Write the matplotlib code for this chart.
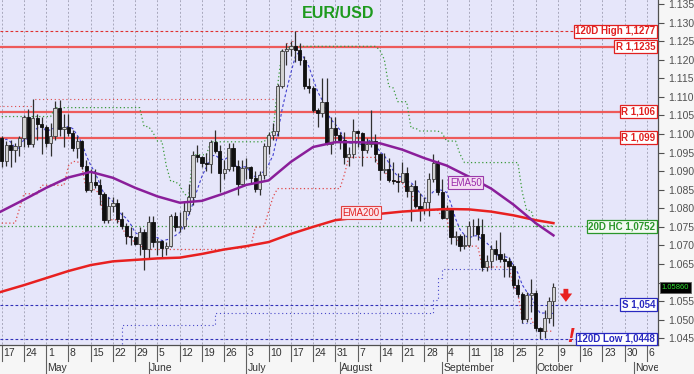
import numpy as np
import pandas as pd
import matplotlib
matplotlib.use("Agg")
import matplotlib.pyplot as plt
from matplotlib.patches import Rectangle
from matplotlib.transforms import blended_transform_factory

plt.rcParams["font.family"] = ["Liberation Sans", "DejaVu Sans"]

# -----------------------------
# Données (EUR/USD journalier)
# -----------------------------
# closes avant le 17 avril, seulement pour les canaux 20 jours
hist_close = [1.0720, 1.0769, 1.0856, 1.0830, 1.0760, 1.0799, 1.0844, 1.0843, 1.0905, 1.0839,
              1.0900, 1.0955, 1.0906, 1.0920, 1.0903, 1.0862, 1.0914, 1.0994, 1.1047, 1.0993]

opens = [1.0990, 1.0926, 1.0971, 1.0957, 1.0967, 1.0990, 1.1046, 1.0974, 1.1042, 1.1028,
         1.1018, 1.0975, 1.0995, 1.1071, 1.1014, 1.1020, 1.1004, 1.0962, 1.0981, 1.0914,
         1.0850, 1.0872, 1.0862, 1.0839, 1.0769, 1.0805, 1.0815, 1.0770, 1.0752, 1.0724,
         1.0722, 1.0705, 1.0735, 1.0689, 1.0763, 1.0708, 1.0712, 1.0693, 1.0699, 1.0779,
         1.0749, 1.0752, 1.0792, 1.0831, 1.0944, 1.0939, 1.0923, 1.0918, 1.0979, 1.0955,
         1.0894, 1.0905, 1.0961, 1.0913, 1.0866, 1.0909, 1.0911, 1.0882, 1.0853, 1.0890,
         1.0968, 1.0997, 1.1008, 1.1129, 1.1224, 1.1228, 1.1236, 1.1226, 1.1200, 1.1128,
         1.1124, 1.1064, 1.1056, 1.1087, 1.0973, 1.1016, 1.0998, 1.0983, 1.0937, 1.0947,
         1.1008, 1.1002, 1.0958, 1.0973, 1.0981, 1.0946, 1.0904, 1.0905, 1.0876, 1.0873,
         1.0872, 1.0895, 1.0846, 1.0861, 1.0807, 1.0795, 1.0818, 1.0880, 1.0923, 1.0843,
         1.0775, 1.0794, 1.0722, 1.0726, 1.0698, 1.0700, 1.0751, 1.0752, 1.0730, 1.0642,
         1.0659, 1.0689, 1.0678, 1.0664, 1.0659, 1.0644, 1.0593, 1.0570, 1.0503, 1.0566,
         1.0573, 1.0477, 1.0469, 1.0505, 1.0549]
highs = [1.0995, 1.0980, 1.0985, 1.0975, 1.0995, 1.1050, 1.1067, 1.1095, 1.1055, 1.1045,
         1.1025, 1.1030, 1.1090, 1.1092, 1.1055, 1.1055, 1.1010, 1.0995, 1.0985, 1.0930,
         1.0905, 1.0905, 1.0880, 1.0845, 1.0830, 1.0830, 1.0825, 1.0790, 1.0760, 1.0750,
         1.0725, 1.0750, 1.0745, 1.0780, 1.0780, 1.0720, 1.0715, 1.0710, 1.0785, 1.0790,
         1.0790, 1.0820, 1.0865, 1.0955, 1.0970, 1.0940, 1.0950, 1.0985, 1.1010, 1.0970,
         1.0930, 1.0975, 1.0975, 1.0930, 1.0930, 1.0935, 1.0915, 1.0900, 1.0900, 1.0975,
         1.1005, 1.1030, 1.1135, 1.1230, 1.1245, 1.1250, 1.1277, 1.1245, 1.1210, 1.1150,
         1.1130, 1.1070, 1.1150, 1.1150, 1.1045, 1.1045, 1.1005, 1.1005, 1.0965, 1.1040,
         1.1010, 1.1005, 1.0990, 1.1065, 1.1000, 1.0950, 1.0950, 1.0935, 1.0925, 1.0895,
         1.0925, 1.0910, 1.0865, 1.0875, 1.0840, 1.0830, 1.0895, 1.0945, 1.0930, 1.0880,
         1.0810, 1.0800, 1.0740, 1.0730, 1.0730, 1.0765, 1.0770, 1.0775, 1.0770, 1.0675,
         1.0700, 1.0715, 1.0737, 1.0680, 1.0670, 1.0650, 1.0610, 1.0575, 1.0575, 1.0610,
         1.0580, 1.0480, 1.0525, 1.0560, 1.0600]
lows = [1.0910, 1.0915, 1.0910, 1.0925, 1.0940, 1.0965, 1.0965, 1.0965, 1.0985, 1.0945,
        1.0965, 1.0940, 1.0985, 1.0995, 1.0965, 1.0995, 1.0955, 1.0935, 1.0905, 1.0845,
        1.0845, 1.0855, 1.0810, 1.0760, 1.0760, 1.0790, 1.0760, 1.0745, 1.0705, 1.0700,
        1.0700, 1.0675, 1.0635, 1.0665, 1.0695, 1.0675, 1.0665, 1.0675, 1.0695, 1.0740,
        1.0735, 1.0745, 1.0785, 1.0810, 1.0925, 1.0910, 1.0900, 1.0895, 1.0950, 1.0845,
        1.0880, 1.0900, 1.0900, 1.0835, 1.0860, 1.0880, 1.0865, 1.0845, 1.0835, 1.0880,
        1.0945, 1.0985, 1.0995, 1.1125, 1.1185, 1.1210, 1.1195, 1.1185, 1.1120, 1.1110,
        1.1060, 1.1020, 1.1045, 1.0970, 1.0945, 1.0975, 1.0960, 1.0920, 1.0915, 1.0935,
        1.0965, 1.0915, 1.0950, 1.0965, 1.0925, 1.0875, 1.0895, 1.0870, 1.0865, 1.0845,
        1.0870, 1.0830, 1.0765, 1.0800, 1.0765, 1.0785, 1.0780, 1.0870, 1.0835, 1.0770,
        1.0775, 1.0705, 1.0700, 1.0685, 1.0690, 1.0695, 1.0725, 1.0715, 1.0630, 1.0630,
        1.0640, 1.0660, 1.0655, 1.0615, 1.0615, 1.0585, 1.0560, 1.0490, 1.0495, 1.0520,
        1.0470, 1.0448, 1.0450, 1.0490, 1.0483]
closes = [1.0926, 1.0971, 1.0957, 1.0967, 1.0990, 1.1046, 1.0974, 1.1042, 1.1028, 1.1018,
          1.0975, 1.0995, 1.1071, 1.1014, 1.1020, 1.1004, 1.0962, 1.0981, 1.0914, 1.0850,
          1.0872, 1.0862, 1.0839, 1.0769, 1.0805, 1.0815, 1.0770, 1.0752, 1.0724, 1.0722,
          1.0705, 1.0735, 1.0689, 1.0763, 1.0708, 1.0712, 1.0693, 1.0699, 1.0779, 1.0749,
          1.0752, 1.0792, 1.0831, 1.0944, 1.0939, 1.0923, 1.0918, 1.0979, 1.0955, 1.0894,
          1.0905, 1.0961, 1.0913, 1.0866, 1.0909, 1.0911, 1.0882, 1.0853, 1.0890, 1.0968,
          1.0997, 1.1008, 1.1129, 1.1224, 1.1228, 1.1236, 1.1226, 1.1200, 1.1128, 1.1124,
          1.1064, 1.1056, 1.1087, 1.0973, 1.1016, 1.0998, 1.0983, 1.0937, 1.0947, 1.1008,
          1.1002, 1.0958, 1.0973, 1.0981, 1.0946, 1.0904, 1.0905, 1.0876, 1.0873, 1.0872,
          1.0895, 1.0846, 1.0861, 1.0807, 1.0795, 1.0818, 1.0880, 1.0923, 1.0843, 1.0775,
          1.0794, 1.0722, 1.0726, 1.0698, 1.0700, 1.0751, 1.0752, 1.0730, 1.0642, 1.0659,
          1.0689, 1.0678, 1.0664, 1.0659, 1.0644, 1.0593, 1.0570, 1.0503, 1.0566, 1.0573,
          1.0477, 1.0469, 1.0505, 1.0549, 1.0588]

# EMA (index jour ouvré depuis le 17 avril)
ema_pos = [-0.4, 5, 10, 15, 20, 25, 30, 35, 40, 45, 50, 55, 60, 65, 70, 75, 80, 85, 90,
           95, 100, 105, 110, 115, 120, 124]
ema50 = [1.0790, 1.0823, 1.0855, 1.0883, 1.0898, 1.0882, 1.0855, 1.0832, 1.0815, 1.0820,
         1.0840, 1.0863, 1.0875, 1.0925, 1.0965, 1.0978, 1.0978, 1.0975, 1.0958, 1.0935,
         1.0915, 1.0885, 1.0853, 1.0810, 1.0760, 1.0727]
ema200 = [1.0574, 1.0593, 1.0612, 1.0631, 1.0647, 1.0657, 1.0661, 1.0665, 1.0667, 1.0677,
          1.0689, 1.0698, 1.0709, 1.0731, 1.0750, 1.0768, 1.0775, 1.0785, 1.0791, 1.0795,
          1.0798, 1.0797, 1.0791, 1.0781, 1.0768, 1.0760]

# anciens plus haut / plus bas 120 jours (pointillés en escalier)
hi120_pos = [-1, 7, 62, 63, 64, 65, 66]
hi120_val = [1.1075, 1.1095, 1.1135, 1.1230, 1.1245, 1.1250, 1.1277]
lo120_pos = [-1, 27, 48, 97, 98, 99, 115, 116, 117, 120, 121, 124]
lo120_val = [1.0400, 1.0486, 1.0517, 1.0553, 1.0612, 1.0636, 1.0585, 1.0560, 1.0490,
             1.0470, 1.0448, 1.0448]

# niveaux horizontaux
res_levels = [1.1235, 1.106, 1.099]
high120 = 1.1277
hc20 = 1.0752
support = 1.054
low120 = 1.0448
last_price = 1.0586

week_days = [17, 24, 1, 8, 15, 22, 29, 5, 12, 19, 26, 3, 10, 17, 24, 31, 7, 14, 21, 28,
             4, 11, 18, 25, 2, 9, 16, 23, 30, 6]
months = ["May", "June", "July", "August", "September", "October", "November"]
month_pos = [10, 33, 55, 76, 99, 120, 142]

# -----------------------------
# Calculs
# -----------------------------
n = len(closes)
x = np.arange(n)
all_close = pd.Series(hist_close + closes)
hc = all_close.rolling(20, min_periods=1).max().values[-n:]
lc = all_close.rolling(20, min_periods=1).min().values[-n:]
ma5 = all_close.rolling(5).mean().values[-n:]

# -----------------------------
# Figure
# -----------------------------
W, H = 694, 374
fig = plt.figure(figsize=(W / 100, H / 100), dpi=100, facecolor="#F6F6F6")
ax = fig.add_axes([0, 29 / H, 658 / W, 345 / H])
ax.set_facecolor("#E6E6FA")
ax.set_xlim(-0.38, 147.5)
ax.set_ylim(1.04318, 1.13608)

mondays = np.arange(0, 150, 5)
ax.vlines(mondays, 1.0, 1.2, colors="#A8A8BC", linestyles=(0, (2, 2)), lw=0.7, zorder=0.5)

# niveaux
ax.axhline(high120, color="#E03030", lw=0.8, ls=(0, (2.5, 2)), zorder=1)
for r in res_levels:
    ax.axhline(r, color="#EE5A5A", lw=1.6, zorder=1)
ax.axhline(hc20, color="#3A9A3A", lw=0.9, ls=(0, (1, 2)), zorder=1)
ax.axhline(support, color="#3030B8", lw=0.8, ls=(0, (2.5, 2)), zorder=1)
ax.axhline(low120, color="#3030B8", lw=0.8, ls=(0, (2.5, 2)), zorder=1)

ax.plot(hi120_pos, hi120_val, drawstyle="steps-post", color="#E04848", lw=0.8,
        ls=(0, (1, 2.5)), zorder=1)
ax.plot(lo120_pos, lo120_val, drawstyle="steps-post", color="#4848C8", lw=0.8,
        ls=(0, (1, 2.5)), zorder=1)

# canaux 20 jours + moyenne courte
ax.plot(x, hc, color="#3A9A3A", lw=0.9, ls=(0, (1, 2)), zorder=1.5)
ax.plot(x, lc, color="#E04848", lw=0.9, ls=(0, (1, 2)), zorder=1.5)
ax.plot(x, ma5, color="#4040D0", lw=0.8, ls=(0, (2.5, 2)), zorder=1.5)

# bougies
o = np.array(opens)
c = np.array(closes)
up = c >= o
ax.vlines(x, lows, highs, colors="#303030", lw=0.9, zorder=2)
bottoms = np.minimum(o, c)
heights = np.maximum(np.abs(c - o), 0.0002)
ax.bar(x[up], heights[up], bottom=bottoms[up], width=0.72, color="#D2D2D2",
       edgecolor="#404040", lw=0.6, zorder=3)
ax.bar(x[~up], heights[~up], bottom=bottoms[~up], width=0.72, color="#101010",
       edgecolor="#101010", lw=0.6, zorder=3)

# EMA
ax.plot(ema_pos, ema200, color="#E82020", lw=1.8, zorder=4)
ax.plot(ema_pos, ema50, color="#8A1E9A", lw=1.8, zorder=4)

ax.text(80.7, 1.0788, "EMA200", fontsize=7, color="#E02020", ha="center", va="center",
        zorder=6, bbox=dict(boxstyle="square,pad=0.15", fc="#FBE4EC", ec="#E04040", lw=0.8))
ax.text(104.3, 1.0869, "EMA50", fontsize=7, color="#9A2AAA", ha="center", va="center",
        zorder=6, bbox=dict(boxstyle="square,pad=0.15", fc="#F4DDF4", ec="#9A3AAA", lw=0.8))

# étiquettes des niveaux
tr = blended_transform_factory(ax.transAxes, ax.transData)


def label(y, txt, col, fc="white"):
    ax.text(0.996, y, txt, transform=tr, fontsize=7, fontweight="bold", color=col,
            ha="right", va="center", zorder=6,
            bbox=dict(boxstyle="square,pad=0.15", fc=fc, ec=col, lw=0.9))


label(high120, "120D High " + f"{high120:.4f}".replace(".", ","), "#E02020")
for r in res_levels:
    label(r, "R " + f"{r:g}".replace(".", ","), "#E02020")
label(hc20, "20D HC " + f"{hc20:.4f}".replace(".", ","), "#2A962A", fc="#F2FAF2")
label(support, "S " + f"{support:.3f}".replace(".", ","), "#2828C0")
label(low120, "120D Low " + f"{low120:.4f}".replace(".", ","), "#2828C0")

ax.text(1.006, last_price, f"{last_price:.5f}", transform=tr, fontsize=5.5, color="#30E030",
        ha="left", va="center", zorder=7, clip_on=False,
        bbox=dict(boxstyle="square,pad=0.25", fc="black", ec="#606060", lw=0.6))

# flèche et point d'exclamation
ax.annotate("", xy=(126.8, 1.0548), xytext=(126.8, 1.0583),
            arrowprops=dict(arrowstyle="simple,head_width=0.9,head_length=0.6,tail_width=0.35",
                            color="#E82020", lw=0, shrinkA=0, shrinkB=0), zorder=6)
ax.text(127.9, 1.0454, "!", fontsize=15, fontweight="bold", style="italic",
        color="#E82020", ha="center", va="center", zorder=6)

ax.text(0.514, 0.962, "EUR/USD", transform=ax.transAxes, fontsize=11.5, fontweight="bold",
        color="#1E9A1E", ha="center", va="center")

# axe des prix à droite (le 1.060 est caché par la boîte du dernier cours)
yt = np.arange(1.045, 1.1351, 0.005)
ax.yaxis.tick_right()
ax.set_yticks(yt)
ax.set_yticklabels(["" if abs(v - 1.060) < 1e-6 else f"{v:.3f}" for v in yt])
ax.tick_params(axis="y", direction="out", length=4, width=0.8, colors="#505050",
               labelsize=7.5, pad=3)
ax.set_xticks([])
for s in ["top", "left"]:
    ax.spines[s].set_visible(False)
for s in ["right", "bottom"]:
    ax.spines[s].set_color("#505050")
    ax.spines[s].set_linewidth(0.9)

# axe des dates
trx = blended_transform_factory(ax.transData, ax.transAxes)
clip = Rectangle((0, 0), 658 / W, 1, transform=fig.transFigure, visible=False)
fig.add_artist(clip)
for pos, d in zip(mondays, week_days):
    ax.plot([pos, pos], [0, -0.046], transform=trx, color="#606060", lw=0.8, clip_on=False)
    t = ax.text(pos + 0.35, -0.008, str(d), transform=trx, fontsize=7.5, color="#333333",
                ha="left", va="top", clip_on=True)
    t.set_clip_path(clip)
for pos, m in zip(month_pos, months):
    ax.plot([pos, pos], [-0.05, -0.084], transform=trx, color="#606060", lw=0.8,
            clip_on=False)
    t = ax.text(pos + 0.3, -0.052, m, transform=trx, fontsize=7.5, color="#333333",
                ha="left", va="top", clip_on=True)
    t.set_clip_path(clip)

fig.savefig("out.png", dpi=100, facecolor=fig.get_facecolor())
